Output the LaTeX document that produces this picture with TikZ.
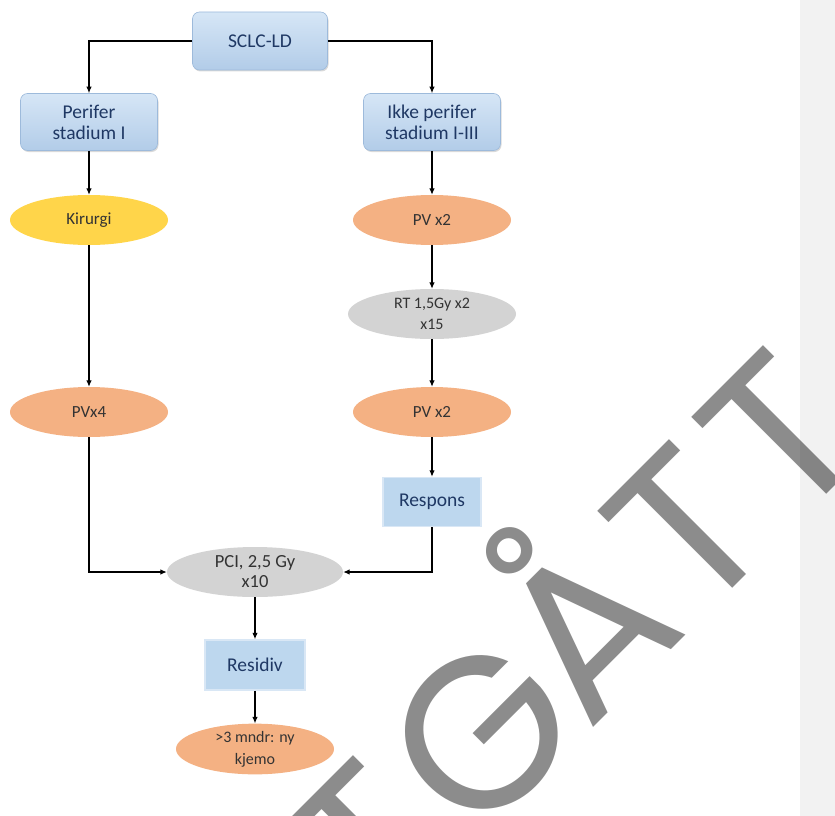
\documentclass[tikz,border=0pt]{standalone}
\usepackage{fontspec}
\setmainfont{Carlito}
\newfontfamily\wmfont{Poppins}
\usetikzlibrary{arrows.meta,shapes.geometric,shadows}
\definecolor{boxtxt}{HTML}{1F3864}
\definecolor{boxtop}{HTML}{D6E6F6}
\definecolor{boxbot}{HTML}{B2CCE8}
\definecolor{boxedge}{HTML}{9DBADB}
\definecolor{flatfill}{HTML}{BDD7EE}
\definecolor{flatedge}{HTML}{D9E7F5}
\definecolor{ellt}{HTML}{333333}
\definecolor{yel}{HTML}{FFD54A}
\definecolor{ora}{HTML}{F4B183}
\definecolor{gry}{HTML}{D3D3D3}
\definecolor{side}{HTML}{F2F2F2}
\tikzset{
  rbox/.style={rectangle, rounded corners=7pt, draw=boxedge, line width=0.6pt,
    top color=boxtop, bottom color=boxbot, minimum width=137pt, minimum height=57pt,
    inner sep=0pt, text=boxtxt, align=center, font=\fontsize{19.5}{21}\selectfont,
    drop shadow={opacity=0.3, shadow xshift=1pt, shadow yshift=-1.5pt}},
  fbox/.style={rectangle, fill=flatfill, draw=flatedge, line width=1.5pt,
    minimum width=98pt, minimum height=49pt, inner sep=0pt, text=boxtxt,
    font=\fontsize{19.5}{21}\selectfont},
  ell/.style={ellipse, minimum width=158pt, minimum height=50pt, inner sep=0pt,
    align=center, text=ellt, font=\fontsize{17}{21}\selectfont},
  conn/.style={draw=black, line width=1.1pt, -{Latex[length=6.5pt,width=5.5pt]}},
  wm/.style={anchor=base, rotate=45, inner sep=0pt, text=black, text opacity=0.45,
    font=\wmfont\fontsize{215}{215}\selectfont}
}
\begin{document}
\begin{tikzpicture}[x=1pt,y=-1pt]
\useasboundingbox (0,0) rectangle (835,816);
\fill[side] (800,0) rectangle (835,816);

% nodes
\node[rbox, minimum width=135pt, minimum height=58pt] (sclc) at (260,41) {SCLC-LD};
\node[rbox] (per) at (89,122) {Perifer\\stadium I};
\node[rbox] (ikke) at (432,122) {Ikke perifer\\stadium I-III};
\node[ell, fill=yel] (kir) at (89,220) {Kirurgi};
\node[ell, fill=ora] (pv1) at (432,220) {PV x2};
\node[ell, fill=gry, minimum width=168pt, font=\fontsize{16}{21}\selectfont] (rt) at (432,314) {RT 1,5Gy x2\\x15};
\node[ell, fill=ora] (pvx4) at (89,412) {PVx4};
\node[ell, fill=ora] (pv2) at (432,412) {PV x2};
\node[fbox] (resp) at (432,502) {Respons};
\node[ell, fill=gry, minimum width=176pt, font=\fontsize{18.5}{20}\selectfont] (pci) at (255,572) {PCI, 2,5 Gy\\x10};
\node[fbox, minimum width=100pt, minimum height=50pt] (resi) at (255,665) {Residiv};
\node[ell, fill=ora, minimum width=158pt, minimum height=50pt, font=\fontsize{16}{22}\selectfont] (ny) at (255,749) {>3 mndr: ny\\kjemo};

% connectors
\draw[conn] (sclc.west) -| (per.north);
\draw[conn] (sclc.east) -| (ikke.north);
\draw[conn] (per.south) -- (kir.north);
\draw[conn] (ikke.south) -- (pv1.north);
\draw[conn] (kir.south) -- (pvx4.north);
\draw[conn] (pv1.south) -- (rt.north);
\draw[conn] (rt.south) -- (pv2.north);
\draw[conn] (pv2.south) -- (resp.north);
\draw[conn] (pvx4.south) |- (pci.west);
\draw[conn] (resp.south) |- (pci.east);
\draw[conn] (pci.south) -- (resi.north);
\draw[conn] (resi.south) -- (ny.north);

% watermark (letters placed along a 45 degree baseline)
\node[wm] (wT1) at (424,897) {T};
\node[wm] (wG)  at (535,786) {G};
\node[wm] (wA)  at (640,681) {Å};
\node[wm] (wT2) at (740,581) {T};
\node[wm] (wT3) at (834,487) {T};
\end{tikzpicture}
\end{document}
